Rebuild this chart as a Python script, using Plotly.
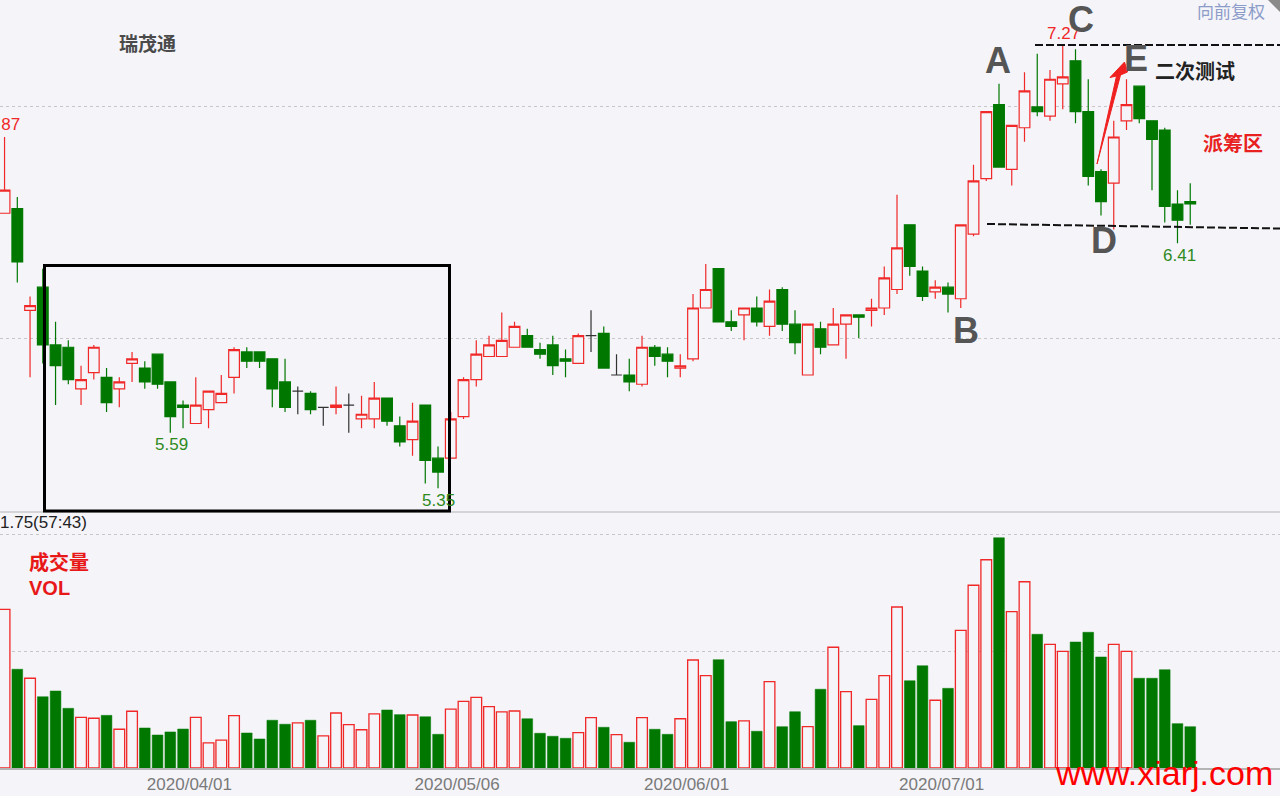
import plotly.graph_objects as go

# ---------------- data ----------------
opens = [6.54, 6.56, 6.12, 6.22, 5.97, 5.96, 5.78, 5.85, 5.83, 5.78,
         5.89, 5.87, 5.93, 5.81, 5.71, 5.63, 5.69, 5.72, 5.83, 5.94,
         5.94, 5.91, 5.81, 5.77, 5.76, 5.70, 5.70, 5.71, 5.65, 5.65,
         5.74, 5.62, 5.56, 5.71, 5.48, 5.48, 5.66, 5.82, 5.92, 5.92,
         5.96, 6.01, 5.95, 5.97, 5.91, 5.89, 6.01, 6.02, 5.84, 5.84,
         5.80, 5.96, 5.93, 5.87, 5.91, 6.13, 6.30, 6.07, 6.10, 6.13,
         6.05, 6.21, 6.06, 5.84, 6.04, 5.97, 6.06, 6.10, 6.12, 6.13,
         6.21, 6.49, 6.29, 6.20, 6.22, 6.17, 6.45, 6.69, 7.01, 6.73,
         6.91, 7.00, 6.96, 7.10, 7.20, 6.98, 6.72, 6.67, 6.94, 7.09,
         6.94, 6.90, 6.58, 6.59]
highs = [6.87, 6.61, 6.18, 6.30, 6.07, 5.99, 5.88, 5.97, 5.87, 5.83,
         5.94, 5.90, 5.93, 5.81, 5.73, 5.83, 5.77, 5.84, 5.96, 5.96,
         5.94, 5.91, 5.91, 5.79, 5.77, 5.70, 5.79, 5.76, 5.75, 5.81,
         5.74, 5.66, 5.72, 5.71, 5.53, 5.68, 5.83, 5.99, 6.01, 6.11,
         6.07, 6.04, 5.98, 6.01, 5.95, 6.02, 6.12, 6.05, 5.93, 5.91,
         6.01, 5.97, 5.96, 5.93, 6.19, 6.32, 6.30, 6.12, 6.13, 6.18,
         6.21, 6.22, 6.12, 6.06, 6.07, 6.13, 6.10, 6.10, 6.17, 6.31,
         6.62, 6.49, 6.31, 6.25, 6.24, 6.49, 6.75, 6.98, 7.10, 6.92,
         7.15, 7.23, 7.16, 7.27, 7.25, 7.12, 6.73, 6.94, 7.12, 7.09,
         6.94, 6.91, 6.64, 6.67]
lows = [6.54, 6.24, 5.83, 5.89, 5.71, 5.80, 5.71, 5.82, 5.68, 5.70,
        5.81, 5.78, 5.78, 5.59, 5.61, 5.63, 5.61, 5.72, 5.76, 5.87,
        5.87, 5.70, 5.68, 5.67, 5.67, 5.62, 5.67, 5.59, 5.61, 5.61,
        5.62, 5.53, 5.49, 5.37, 5.35, 5.48, 5.65, 5.79, 5.92, 5.92,
        5.96, 5.96, 5.91, 5.84, 5.83, 5.89, 5.94, 5.87, 5.84, 5.77,
        5.79, 5.88, 5.83, 5.83, 5.90, 6.13, 6.07, 6.03, 5.99, 6.05,
        6.01, 6.03, 5.93, 5.84, 5.93, 5.97, 5.91, 6.00, 6.05, 6.10,
        6.19, 6.27, 6.16, 6.17, 6.11, 6.13, 6.44, 6.68, 6.74, 6.66,
        6.85, 6.96, 6.94, 6.99, 6.93, 6.66, 6.53, 6.47, 6.90, 6.93,
        6.64, 6.50, 6.41, 6.49]
closes = [6.64, 6.33, 6.14, 5.97, 5.88, 5.82, 5.82, 5.96, 5.72, 5.81,
          5.91, 5.81, 5.80, 5.66, 5.70, 5.71, 5.77, 5.76, 5.95, 5.90,
          5.90, 5.78, 5.70, 5.77, 5.69, 5.70, 5.71, 5.71, 5.67, 5.74,
          5.64, 5.55, 5.64, 5.47, 5.42, 5.65, 5.82, 5.93, 5.97, 5.99,
          6.05, 5.96, 5.93, 5.88, 5.90, 6.01, 6.01, 5.87, 5.84, 5.81,
          5.96, 5.92, 5.90, 5.88, 6.13, 6.21, 6.07, 6.05, 6.13, 6.07,
          6.16, 6.06, 5.98, 6.06, 5.96, 6.06, 6.10, 6.09, 6.13, 6.26,
          6.39, 6.31, 6.18, 6.22, 6.19, 6.49, 6.68, 6.98, 6.74, 6.92,
          7.07, 6.98, 7.12, 7.13, 6.98, 6.70, 6.59, 6.87, 7.01, 6.95,
          6.86, 6.57, 6.51, 6.58]
volumes = [13.56, 8.44, 7.67, 6.09, 6.58, 5.10, 4.33, 4.25, 4.50, 3.31,
           4.85, 3.42, 2.82, 3.08, 3.33, 4.33, 2.14, 2.39, 4.47, 2.99,
           2.48, 4.08, 3.74, 3.85, 4.08, 2.74, 4.70, 3.70, 3.27, 4.62,
           4.96, 4.56, 4.53, 4.38, 2.88, 5.04, 5.70, 6.04, 5.24, 4.79,
           4.87, 4.21, 2.97, 2.71, 2.54, 3.02, 4.30, 3.48, 2.85, 2.20,
           4.30, 3.31, 2.88, 4.21, 9.23, 7.89, 9.26, 3.96, 4.02, 3.14,
           7.38, 3.53, 4.81, 3.53, 6.73, 10.32, 6.52, 3.62, 5.87, 7.89,
           13.76, 7.46, 8.74, 5.79, 6.81, 11.77, 15.62, 17.80, 19.68, 13.36,
           15.92, 11.43, 10.57, 9.97, 10.77, 11.60, 9.49, 10.57, 9.97, 7.67,
           7.67, 8.40, 3.79, 3.53]
tick_labels = ["2020/04/01", "2020/05/06", "2020/06/01", "2020/07/01"]
tick_idx = [14, 35, 53, 73]

# ---------------- styling ----------------
BG = "#f4f4f9"
RED = "#f02828"
GREEN = "#007800"
LBL_GREEN = "#2f8a1c"
W, H, B = 1280, 796, 28
PH = H - B  # plot height in px


def px(x):
    return x / W


def py(y):
    return (PH - y) / PH


n = len(opens)
idx = list(range(n))
norm = [i for i in idx if opens[i] != closes[i]]
doji = [i for i in idx if opens[i] == closes[i]]

fig = go.Figure()

fig.add_trace(go.Candlestick(
    x=norm,
    open=[opens[i] for i in norm], high=[highs[i] for i in norm],
    low=[lows[i] for i in norm], close=[closes[i] for i in norm],
    increasing=dict(line=dict(color=RED, width=1.2), fillcolor=BG),
    decreasing=dict(line=dict(color=GREEN, width=1.2), fillcolor=GREEN),
    whiskerwidth=0, xaxis="x", yaxis="y", name="K",
))
fig.add_trace(go.Candlestick(
    x=doji,
    open=[opens[i] for i in doji], high=[highs[i] for i in doji],
    low=[lows[i] for i in doji], close=[closes[i] for i in doji],
    increasing=dict(line=dict(color="#333333", width=1.2), fillcolor="#333333"),
    decreasing=dict(line=dict(color="#333333", width=1.2), fillcolor="#333333"),
    whiskerwidth=0, xaxis="x", yaxis="y", name="doji",
))

up = [i for i in idx if closes[i] >= opens[i]]
dn = [i for i in idx if closes[i] < opens[i]]
fig.add_trace(go.Bar(
    x=up, y=[volumes[i] for i in up], width=0.84,
    marker=dict(color=BG, line=dict(color=RED, width=1.3)),
    xaxis="x", yaxis="y2", name="vol up",
))
fig.add_trace(go.Bar(
    x=dn, y=[volumes[i] for i in dn], width=0.84,
    marker=dict(color=GREEN, line=dict(color=GREEN, width=0.5)),
    xaxis="x", yaxis="y2", name="vol down",
))

# ---------------- shapes ----------------
shapes = [
    # separator between panels
    dict(type="line", xref="paper", yref="paper", x0=0, x1=1, y0=py(512), y1=py(512),
         line=dict(color="#b4b4b4", width=1)),
    # consolidation box
    dict(type="rect", xref="paper", yref="paper", x0=px(44.5), x1=px(449.5),
         y0=py(511), y1=py(265.5), line=dict(color="#000000", width=3)),
    # C resistance line
    dict(type="line", xref="paper", yref="paper", x0=px(1035), x1=px(1280),
         y0=py(45), y1=py(45), line=dict(color="#111111", width=2, dash="8px,3px")),
    # D support line
    dict(type="line", xref="paper", yref="paper", x0=px(987), x1=px(1280),
         y0=py(224), y1=py(228.5), line=dict(color="#111111", width=2, dash="8px,3px")),
    # red arrow
    dict(type="path", xref="paper", yref="paper",
         path="M {} {} L {} {} L {} {} L {} {} L {} {} L {} {} Z".format(
             px(1097), py(164), px(1116.5), py(76), px(1110), py(77.5),
             px(1124.5), py(62), px(1127.5), py(72), px(1120.5), py(75)),
         fillcolor="#f02020", line=dict(color="#f02020", width=1)),
    # top-right corner mark
    dict(type="path", xref="paper", yref="paper",
         path="M {} {} L {} {} L {} {} Z".format(px(1268), py(0), px(1280), py(0), px(1280), py(12)),
         fillcolor="#8a8a8a", line=dict(width=0)),
]

# ---------------- annotations ----------------
def ann(text, x, y, size, color, bold=False, family="Liberation Sans", xanchor="center"):
    t = "<b>%s</b>" % text if bold else text
    return dict(text=t, x=px(x), y=py(y), xref="paper", yref="paper", showarrow=False,
                xanchor=xanchor, yanchor="middle", font=dict(size=size, color=color, family=family))

CJK = "Noto Sans CJK SC"
annotations = [
    ann("瑞茂通", 147, 42, 19, "#4a4a4a", bold=True, family=CJK),
    ann("6.87", 22, 125, 17, RED, xanchor="right"),
    ann("5.59", 171, 444, 17, LBL_GREEN),
    ann("5.35", 438, 500, 17, LBL_GREEN),
    ann("6.41", 1179, 255, 17, LBL_GREEN),
    ann("7.27", 1063, 33, 17, RED),
    ann("A", 998, 60, 36, "#555555", bold=True),
    ann("B", 966, 330, 36, "#555555", bold=True),
    ann("C", 1081, 20, 36, "#555555", bold=True),
    ann("D", 1104, 240, 36, "#555555", bold=True),
    ann("E", 1136, 59, 36, "#555555", bold=True),
    ann("二次测试", 1195, 70, 20, "#222222", bold=True, family=CJK),
    ann("派筹区", 1233, 143, 20, "#e82020", bold=True, family=CJK),
    ann("向前复权", 1231, 10, 17, "#8c9cc8", family=CJK),
    ann("成交量", 27, 561, 20, "#e81818", bold=True, family=CJK, xanchor="left"),
    ann("VOL", 27, 588, 20, "#e81818", bold=True, xanchor="left"),
    ann("1.75(57:43)", -2, 522, 17, "#222222", xanchor="left"),
    ann("www.xiarj.com", 1164, 773, 34, "#ff0000"),
]

fig.update_layout(
    width=W, height=H,
    margin=dict(l=0, r=0, t=0, b=B),
    paper_bgcolor=BG, plot_bgcolor=BG,
    showlegend=False, barmode="overlay", boxgap=0.16, boxgroupgap=0,
    hovermode=False,
    xaxis=dict(range=[-0.357, 100.04], anchor="y2", rangeslider=dict(visible=False),
               tickmode="array", tickvals=[t + 0.5 for t in tick_idx], ticktext=tick_labels,
               showgrid=False, zeroline=False, showline=True, linecolor="#b4b4b4", linewidth=2,
               ticks="", tickfont=dict(size=17, color="#7a7a7a", family="Liberation Sans")),
    yaxis=dict(domain=[py(512), 1], range=[5.247, 7.463], tickvals=[6, 7],
               showticklabels=False, showgrid=True, gridcolor="#c6c6c6", gridwidth=1,
               griddash="3px,3px", zeroline=False),
    yaxis2=dict(domain=[0, py(512)], range=[0, 21.88], tickvals=[10, 20],
                showticklabels=False, showgrid=True, gridcolor="#c6c6c6", gridwidth=1,
                griddash="3px,3px", zeroline=False),
    shapes=shapes, annotations=annotations,
)

fig.write_html(
    "out.html",
    config={"displayModeBar": False, "staticPlot": True},
    post_script="document.body.style.margin='0';document.body.style.padding='0';"
                "document.body.style.overflow='hidden';document.body.style.background='%s';" % BG,
)
